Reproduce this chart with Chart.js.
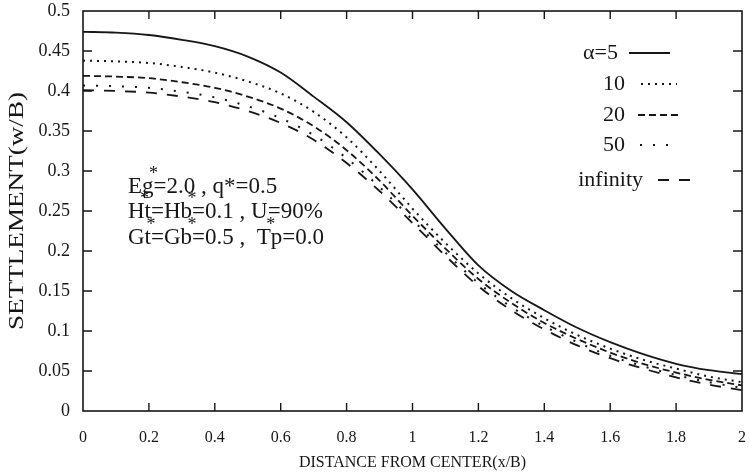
<!DOCTYPE html>
<html>
<head>
<meta charset="utf-8">
<script src="https://cdn.jsdelivr.net/npm/chart.js@4.4.1/dist/chart.umd.min.js"></script>
<style>
    html, body { margin: 0; padding: 0; background: #fff; }
</style>
</head>
<body>
<canvas id="graficoAsentamiento" width="749" height="474"></canvas>
<script>
// Distancia desde el centro (x/B) y asentamiento (w/B) para cada alfa
const distancia = [0, 0.1, 0.2, 0.3, 0.4, 0.5, 0.6, 0.7, 0.8, 0.9, 1.0, 1.1, 1.2, 1.3, 1.4, 1.5, 1.6, 1.7, 1.8, 1.9, 2.0];
const asentAlfa5 = [0.474, 0.473, 0.470, 0.464, 0.456, 0.443, 0.423, 0.393, 0.361, 0.321, 0.277, 0.228, 0.182, 0.150, 0.126, 0.104, 0.086, 0.071, 0.059, 0.051, 0.046];
const asentAlfa10 = [0.438, 0.437, 0.435, 0.430, 0.423, 0.412, 0.397, 0.374, 0.342, 0.300, 0.253, 0.210, 0.172, 0.141, 0.116, 0.095, 0.078, 0.064, 0.053, 0.043, 0.036];
const asentAlfa20 = [0.419, 0.418, 0.416, 0.411, 0.404, 0.393, 0.378, 0.356, 0.326, 0.288, 0.244, 0.203, 0.165, 0.135, 0.110, 0.090, 0.073, 0.059, 0.048, 0.039, 0.032];
const asentAlfa50 = [0.407, 0.406, 0.404, 0.399, 0.392, 0.381, 0.366, 0.345, 0.316, 0.280, 0.239, 0.198, 0.160, 0.130, 0.106, 0.086, 0.069, 0.056, 0.045, 0.036, 0.029];
const asentInfinito = [0.401, 0.400, 0.398, 0.393, 0.386, 0.375, 0.360, 0.339, 0.310, 0.275, 0.235, 0.194, 0.156, 0.126, 0.102, 0.082, 0.066, 0.053, 0.042, 0.033, 0.026];

const etiquetasSerie = ["α=5", "10", "20", "50", "infinity"];
const ticksX = [0, 0.2, 0.4, 0.6, 0.8, 1, 1.2, 1.4, 1.6, 1.8, 2];
const rotulosX = ["0", "0.2", "0.4", "0.6", "0.8", "1", "1.2", "1.4", "1.6", "1.8", "2"];
const ticksY = [0, 0.05, 0.1, 0.15, 0.2, 0.25, 0.3, 0.35, 0.4, 0.45, 0.5];
const rotulosY = ["0", "0.05", "0.1", "0.15", "0.2", "0.25", "0.3", "0.35", "0.4", "0.45", "0.5"];

// Parametros del caso: texto y prefijos sobre los que va el asterisco
const parametros = [
    { texto: "Eg=2.0 , q*=0.5", asteriscos: ["Eg"] },
    { texto: "Ht=Hb=0.1 , U=90%", asteriscos: ["H", "Ht=Hb"] },
    { texto: "Gt=Gb=0.5 ,  Tp=0.0", asteriscos: ["Gt", "Gt=Gb", "Gt=Gb=0.5 ,  T"] }
];

const TINTA = "#161616";
const SERIF = '"Liberation Serif", "Times New Roman", serif';

const estilos = [
    { borderWidth: 1.8, borderDash: [] },
    { borderWidth: 2, borderDash: [2, 5] },
    { borderWidth: 1.8, borderDash: [7, 4] },
    { borderWidth: 2, borderDash: [2, 11] },
    { borderWidth: 1.8, borderDash: [11, 10] }
];

const series = [asentAlfa5, asentAlfa10, asentAlfa20, asentAlfa50, asentInfinito];

const datasets = series.map((serie, i) => ({
    label: etiquetasSerie[i],
    data: distancia.map((x, j) => ({ x: x, y: serie[j] })),
    borderColor: TINTA,
    borderWidth: estilos[i].borderWidth,
    borderDash: estilos[i].borderDash,
    borderCapStyle: "butt",
    pointRadius: 0,
    fill: false,
    cubicInterpolationMode: "monotone"
}));

// Sin relleno extra por las etiquetas de los extremos
function ajustarEje(s, lado, medida) {
    s[lado] = medida;
    s.paddingTop = 0;
    s.paddingBottom = 0;
    s.paddingLeft = 0;
    s.paddingRight = 0;
}

// Marco completo con marcas hacia adentro en los cuatro lados
const marcoEjes = {
    id: "marcoEjes",
    afterDatasetsDraw(chart) {
        const { ctx, chartArea: a, scales: { x, y } } = chart;
        ctx.save();
        ctx.strokeStyle = TINTA;
        ctx.lineWidth = 1.6;
        ctx.setLineDash([]);
        ctx.strokeRect(a.left, a.top, a.right - a.left, a.bottom - a.top);
        ctx.lineWidth = 1.4;
        ctx.beginPath();
        ticksX.slice(1, -1).forEach(v => {
            const px = x.getPixelForValue(v);
            ctx.moveTo(px, a.bottom); ctx.lineTo(px, a.bottom - 8);
            ctx.moveTo(px, a.top); ctx.lineTo(px, a.top + 8);
        });
        ticksY.slice(1, -1).forEach(v => {
            const py = y.getPixelForValue(v);
            ctx.moveTo(a.left, py); ctx.lineTo(a.left + 9, py);
            ctx.moveTo(a.right, py); ctx.lineTo(a.right - 9, py);
        });
        ctx.stroke();
        ctx.restore();
    }
};

// Leyenda a la derecha: etiqueta alineada a la derecha y muestra de linea
const leyenda = {
    id: "leyenda",
    afterDraw(chart) {
        const { ctx } = chart;
        const filas = [
            { y: 53, fin: 618, linea: [629, 670] },
            { y: 84, fin: 625, linea: [641, 677] },
            { y: 115, fin: 625, linea: [638, 679] },
            { y: 145, fin: 625, linea: [640, 672] },
            { y: 180, fin: 643, linea: [658, 697] }
        ];
        ctx.save();
        ctx.font = "22px " + SERIF;
        ctx.textAlign = "right";
        ctx.textBaseline = "middle";
        ctx.fillStyle = TINTA;
        chart.data.datasets.forEach((ds, i) => {
            const f = filas[i];
            ctx.fillText(ds.label, f.fin, f.y);
            ctx.strokeStyle = ds.borderColor;
            ctx.lineWidth = ds.borderWidth;
            ctx.setLineDash(ds.borderDash);
            ctx.beginPath();
            ctx.moveTo(f.linea[0], f.y);
            ctx.lineTo(f.linea[1], f.y);
            ctx.stroke();
        });
        ctx.restore();
    }
};

// Texto de parametros y titulo vertical del eje y
const textos = {
    id: "textos",
    afterDraw(chart) {
        const { ctx, chartArea: a } = chart;
        ctx.save();
        ctx.fillStyle = TINTA;
        ctx.textBaseline = "middle";
        ctx.textAlign = "left";
        const izquierda = 128;
        const filasY = [187, 212, 238];
        parametros.forEach((p, i) => {
            ctx.font = "23px " + SERIF;
            ctx.fillText(p.texto, izquierda, filasY[i]);
            p.asteriscos.forEach(prefijo => {
                const px = izquierda + ctx.measureText(prefijo).width;
                ctx.font = "18px " + SERIF;
                ctx.textAlign = "center";
                ctx.fillText("*", px, filasY[i] - 13);
                ctx.textAlign = "left";
                ctx.font = "23px " + SERIF;
            });
        });

        ctx.font = "20px " + SERIF;
        const titulo = "SETTLEMENT(w/B)";
        const ancho = ctx.measureText(titulo).width;
        ctx.translate(18, (a.top + a.bottom) / 2);
        ctx.rotate(-Math.PI / 2);
        ctx.scale(238 / ancho, 1);
        ctx.textAlign = "center";
        ctx.fillText(titulo, 0, 0);
        ctx.restore();
    }
};

const ctxAsentamiento = document.getElementById("graficoAsentamiento").getContext("2d");
new Chart(ctxAsentamiento, {
    type: "line",
    data: { datasets: datasets },
    options: {
        responsive: false,
        animation: false,
        devicePixelRatio: 1,
        layout: { padding: { top: 11, right: 7, left: 0, bottom: 0 } },
        plugins: { legend: { display: false }, tooltip: { enabled: false } },
        scales: {
            x: {
                type: "linear",
                min: 0,
                max: 2,
                afterBuildTicks: s => { s.ticks = ticksX.map(v => ({ value: v })); },
                afterFit: s => ajustarEje(s, "height", 63),
                grid: { display: false, drawTicks: false },
                border: { display: false },
                ticks: {
                    padding: 17,
                    color: TINTA,
                    font: { family: SERIF, size: 16 },
                    callback: (v, i) => rotulosX[i]
                },
                title: {
                    display: true,
                    text: "DISTANCE FROM CENTER(x/B)",
                    color: TINTA,
                    font: { family: SERIF, size: 16 },
                    padding: { top: 0, bottom: 2 }
                }
            },
            y: {
                type: "linear",
                min: 0,
                max: 0.5,
                afterBuildTicks: s => { s.ticks = ticksY.map(v => ({ value: v })); },
                afterFit: s => ajustarEje(s, "width", 83),
                grid: { display: false, drawTicks: false },
                border: { display: false },
                ticks: {
                    padding: 13,
                    color: TINTA,
                    font: { family: SERIF, size: 18 },
                    callback: (v, i) => rotulosY[i]
                }
            }
        }
    },
    plugins: [marcoEjes, leyenda, textos]
});
</script>
</body>
</html>
